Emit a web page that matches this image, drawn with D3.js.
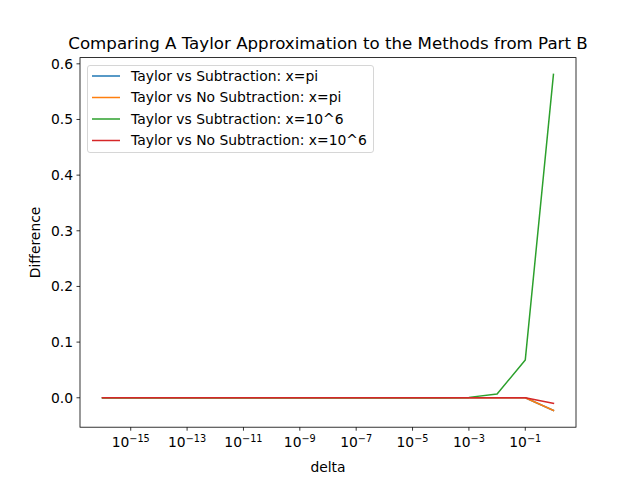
<!DOCTYPE html>
<html><head><meta charset="utf-8">
<script src="https://cdn.jsdelivr.net/npm/d3@7/dist/d3.min.js"></script>
<style>body{margin:0;background:#fff}svg{display:block}text{font-family:"DejaVu Sans",sans-serif;fill:#000}</style>
</head><body>
<script>
const deltas = [1e-16,1e-15,1e-14,1e-13,1e-12,1e-11,1e-10,1e-9,1e-8,1e-7,1e-6,1e-5,1e-4,1e-3,1e-2,1e-1,1e0];
const subPi   = [0,0,0,0,0,0,0,0,0,0,0,0,0,0,0,0,-0.0227];
const noSubPi = [0,0,0,0,0,0,0,0,0,0,0,0,0,0,0,0,-0.0227];
const sub1e6  = [0,0,0,0,0,0,0,0,0,0,0,0.000007,0.00007,0.0007,0.0066,0.068,0.581];
const noSub1e6= [0,0,0,0,0,0,0,0,0,0,0,0,0,0,0,0,-0.0102];
const seriesNames = ["Taylor vs Subtraction: x=pi","Taylor vs No Subtraction: x=pi","Taylor vs Subtraction: x=10^6","Taylor vs No Subtraction: x=10^6"];
const seriesColors = ["#1f77b4","#ff7f0e","#2ca02c","#d62728"];
const yTicks = [0.0,0.1,0.2,0.3,0.4,0.5,0.6];
const xTickExps = [-15,-13,-11,-9,-7,-5,-3,-1];

const W=640,H=480, L=80,R=576,T=57.6,B=427.2;
const svg=d3.select("body").append("svg").attr("width",W).attr("height",H);
const x=d3.scaleLog().domain([Math.pow(10,-16.8),Math.pow(10,0.8)]).range([L,R]);
const allY=[...subPi,...noSubPi,...sub1e6,...noSub1e6];
const ymin=d3.min(allY), ymax=d3.max(allY), m=(ymax-ymin)*0.05;
const y=d3.scaleLinear().domain([ymin-m,ymax+m]).range([B,T]);

const fs=13.89;
// lines
const data=[subPi,noSubPi,sub1e6,noSub1e6];
const line=d3.line().x((d,i)=>x(deltas[i])).y(d=>y(d));
const clip=svg.append("clipPath").attr("id","c").append("rect").attr("x",L).attr("y",T).attr("width",R-L).attr("height",B-T);
const g=svg.append("g").attr("clip-path","url(#c)");
data.forEach((s,k)=>{
  g.append("path").datum(s).attr("d",line).attr("fill","none").attr("stroke",seriesColors[k]).attr("stroke-width",1.5).attr("stroke-linejoin","round").attr("stroke-linecap","square");
});
// frame
svg.append("rect").attr("x",L).attr("y",T).attr("width",R-L).attr("height",B-T).attr("fill","none").attr("stroke","#000").attr("stroke-width",0.8);
// x ticks
const xt=svg.append("g");
xTickExps.forEach(e=>{
  const px=x(Math.pow(10,e));
  xt.append("line").attr("x1",px).attr("x2",px).attr("y1",B).attr("y2",B+3.5).attr("stroke","#000").attr("stroke-width",0.8);
  const t=xt.append("text").attr("x",px).attr("y",B+20).attr("text-anchor","middle").attr("font-size",fs);
  t.append("tspan").text("10");
  t.append("tspan").attr("dy",-5.5).attr("font-size",fs*0.7).text("\u2212"+Math.abs(e));
});
// y ticks
const yt=svg.append("g");
yTicks.forEach(v=>{
  const py=y(v);
  yt.append("line").attr("x1",L-3.5).attr("x2",L).attr("y1",py).attr("y2",py).attr("stroke","#000").attr("stroke-width",0.8);
  yt.append("text").attr("x",L-7).attr("y",py).attr("dy","0.35em").attr("text-anchor","end").attr("font-size",fs).text(v.toFixed(1));
});
// labels
svg.append("text").attr("x",(L+R)/2).attr("y",472).attr("text-anchor","middle").attr("font-size",fs).text("delta");
svg.append("text").attr("transform",`translate(40,${(T+B)/2}) rotate(-90)`).attr("text-anchor","middle").attr("font-size",fs).text("Difference");
svg.append("text").attr("x",(L+R)/2).attr("y",49).attr("text-anchor","middle").attr("font-size",16.67).text("Comparing A Taylor Approximation to the Methods from Part B");
// legend
const lg=svg.append("g");
lg.append("rect").attr("x",87.5).attr("y",65.5).attr("width",286).attr("height",87).attr("rx",2.5).attr("fill","#fff").attr("fill-opacity",0.8).attr("stroke","#ccc").attr("stroke-width",0.8);
seriesNames.forEach((n,k)=>{
  const ly=76+k*21.5;
  lg.append("line").attr("x1",92).attr("x2",120).attr("y1",ly).attr("y2",ly).attr("stroke",seriesColors[k]).attr("stroke-width",1.5);
  lg.append("text").attr("x",131).attr("y",ly).attr("dy","0.35em").attr("font-size",fs).text(n);
});
</script>
</body></html>
